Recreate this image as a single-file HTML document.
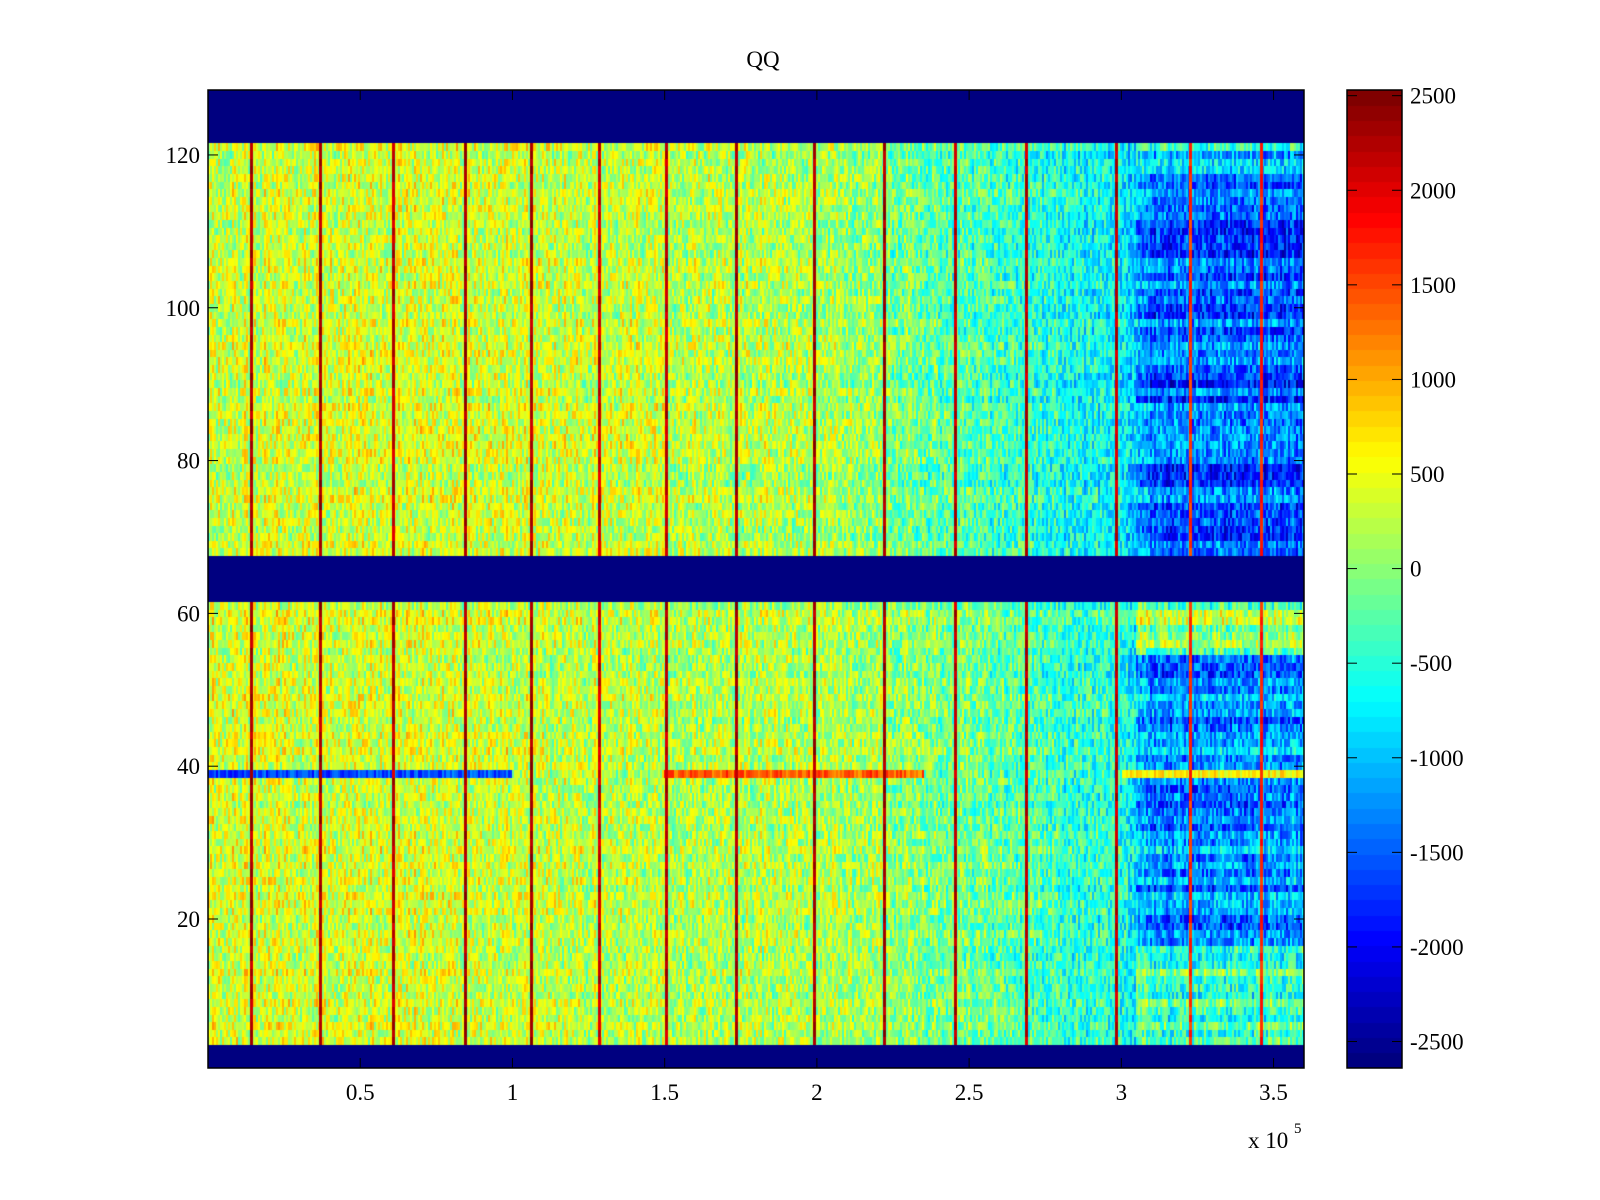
<!DOCTYPE html>
<html><head><meta charset="utf-8"><style>
body{margin:0;background:#fff;}
#wrap{position:relative;width:1600px;height:1200px;overflow:hidden;font-family:"Liberation Serif",serif;}
canvas{position:absolute;left:0;top:0;}
svg{position:absolute;left:0;top:0;}
</style></head><body>
<div id="wrap">
<canvas id="cv" width="1600" height="1200"></canvas>
<svg id="sv" width="1600" height="1200"></svg>
</div>
<script>
// ---- data ----
const xKnots = [0, 0.5, 1.0, 1.5, 2.0, 2.5, 2.8, 3.0, 3.1, 3.6];          // x (1e5)
const topMeans = [300, 400, 350, 250, 150, -300, -600, -700, -1500, -1600];
const botMeans = [400, 400, 350, 200, 200, -100, -400, -500, -1300, -1200];
const spikeX = [0.141, 0.369, 0.607, 0.845, 1.062, 1.283, 1.504, 1.735, 1.99, 2.22, 2.455, 2.686, 2.984, 3.225, 3.459];
const spikeVal = [2300, 2300, 2200, 2300, 2300, 2100, 2200, 2300, 2300, 2300, 2200, 2200, 2200, 1600, 1700];
const validRanges = [[4, 61], [68, 121]];
const brightRightRows = [[4, 16, 900], [55, 61, 1200], [118, 121, 700]];
const stripeRow = [39];
const stripeSegX = [[0, 1.0], [1.5, 2.35], [3.0, 3.6]];
const stripeSegVal = [-1600, 1400, 600];
const yTicks = [20, 40, 60, 80, 100, 120];
const xTicks = [0.5, 1, 1.5, 2, 2.5, 3, 3.5];
const xTickLabels = ["0.5", "1", "1.5", "2", "2.5", "3", "3.5"];
const cTicks = [-2500, -2000, -1500, -1000, -500, 0, 500, 1000, 1500, 2000, 2500];
// ---- layout ----
const L = 208, T = 90, R = 1304, B = 1068;
const xMin = 0, xMax = 3.6, yMin = 0.5, yMax = 128.5;
const cMin = -2640, cMax = 2530;
const CL = 1347, CR = 1402;
const sx = v => L + (v - xMin) / (xMax - xMin) * (R - L);
const sy = v => B - (v - yMin) / (yMax - yMin) * (B - T);
const sc = v => B - (v - cMin) / (cMax - cMin) * (B - T);
function jet(t) {
  t = Math.max(0, Math.min(1, t));
  const r = Math.max(0, Math.min(1, 1.5 - Math.abs(4 * t - 3)));
  const g = Math.max(0, Math.min(1, 1.5 - Math.abs(4 * t - 2)));
  const b = Math.max(0, Math.min(1, 1.5 - Math.abs(4 * t - 1)));
  return `rgb(${Math.round(r*255)},${Math.round(g*255)},${Math.round(b*255)})`;
}
const col = v => jet(Math.floor((v - cMin) / (cMax - cMin) * 64) / 63);
function interp(x, ys) {
  for (let i = 0; i < xKnots.length - 1; i++) if (x <= xKnots[i + 1]) {
    const f = (x - xKnots[i]) / (xKnots[i + 1] - xKnots[i]); return ys[i] + f * (ys[i + 1] - ys[i]);
  }
  return ys[ys.length - 1];
}
function hash(a, b) { let h = (a * 374761393 + b * 668265263) | 0; h = (h ^ (h >>> 13)) * 1274126177; h ^= h >>> 16; return ((h >>> 0) % 10000) / 10000; }
const ctx = document.getElementById('cv').getContext('2d');
ctx.fillStyle = col(cMin); ctx.fillRect(L, T, R - L, B - T);
const cw = 2, nCols = Math.ceil((R - L) / cw);
for (let r = 1; r <= 128; r++) {
  const ok = validRanges.some(g => r >= g[0] && r <= g[1]);
  if (!ok) continue;
  const top = r >= 68;
  const rowOff = (hash(r, 7) - 0.5) * 500;
  let rightAdj = 0;
  brightRightRows.forEach(g => { if (r >= g[0] && r <= g[1]) rightAdj = g[2]; });
  const y0 = Math.round(sy(r + 0.5)), y1 = Math.round(sy(r - 0.5));
  for (let c = 0; c < nCols; c++) {
    const px = L + c * cw, x = xMin + (px + cw / 2 - L) / (R - L) * (xMax - xMin);
    let v = interp(x, top ? topMeans : botMeans);
    v += (hash(c, r) - 0.5) * 1100 + (hash(c, 3) - 0.5) * 300 + (x > 3.05 ? rowOff * 1.6 + rightAdj : rowOff * 0.4);
    if (stripeRow.includes(r)) stripeSegX.forEach((s, i) => { if (x >= s[0] && x <= s[1]) v = stripeSegVal[i] + (hash(c, r + 99) - 0.5) * 700; });
    ctx.fillStyle = col(v); ctx.fillRect(px, y0, cw, y1 - y0);
  }
  spikeX.forEach((sxv, i) => { ctx.fillStyle = col(spikeVal[i] + (hash(i, r) - 0.5) * 400); ctx.fillRect(Math.round(sx(sxv)) - 1, y0, 3, y1 - y0); });
}
// colorbar
for (let k = 0; k < 64; k++) {
  const v0 = cMin + k * (cMax - cMin) / 64, v1 = cMin + (k + 1) * (cMax - cMin) / 64;
  ctx.fillStyle = jet(k / 63); ctx.fillRect(CL, Math.floor(sc(v1)), CR - CL, Math.ceil(sc(v0)) - Math.floor(sc(v1)));
}
// svg
const sv = document.getElementById('sv'), NS = 'http://www.w3.org/2000/svg';
function mk(tag, attrs, name, txt) {
  const e = document.createElementNS(NS, tag);
  for (const k in attrs) e.setAttribute(k, attrs[k]);
  
  
  if (txt !== undefined) e.textContent = txt;
  sv.appendChild(e); return e;
}
mk('rect', {x: L, y: T, width: R - L, height: B - T, fill: 'none', stroke: '#000', 'stroke-width': 1.5}, 'plot-frame');
mk('rect', {x: CL, y: T, width: CR - CL, height: B - T, fill: 'none', stroke: '#000', 'stroke-width': 1.5}, 'colorbar-frame');
yTicks.forEach(v => {
  const y = sy(v);
  mk('line', {x1: L, x2: L + 10, y1: y, y2: y, stroke: '#000'}, 'y-tick');
  mk('line', {x1: R - 10, x2: R, y1: y, y2: y, stroke: '#000'}, 'y-tick');
  mk('text', {x: L - 8, y: y + 8, 'text-anchor': 'end', 'font-size': 23}, 'y-tick-label', String(v));
});
xTicks.forEach((v, i) => {
  const x = sx(v);
  mk('line', {x1: x, x2: x, y1: B, y2: B - 10, stroke: '#000'}, 'x-tick');
  mk('line', {x1: x, x2: x, y1: T, y2: T + 10, stroke: '#000'}, 'x-tick');
  mk('text', {x: x, y: B + 32, 'text-anchor': 'middle', 'font-size': 23}, 'x-tick-label', xTickLabels[i]);
});
cTicks.forEach(v => {
  const y = sc(v);
  mk('line', {x1: CL, x2: CL + 10, y1: y, y2: y, stroke: '#000'}, 'colorbar-tick');
  mk('line', {x1: CR - 10, x2: CR, y1: y, y2: y, stroke: '#000'}, 'colorbar-tick');
  mk('text', {x: CR + 8, y: y + 8, 'font-size': 23}, 'colorbar-tick-label', String(v));
});
mk('text', {x: 1248, y: 1148, 'font-size': 23}, 'x-exponent', 'x 10');
mk('text', {x: 1294, y: 1133, 'font-size': 15}, 'x-exponent-power', '5');
mk('text', {x: 763, y: 67, 'text-anchor': 'middle', 'font-size': 23}, 'chart-title', 'QQ');
</script>
</body></html>
